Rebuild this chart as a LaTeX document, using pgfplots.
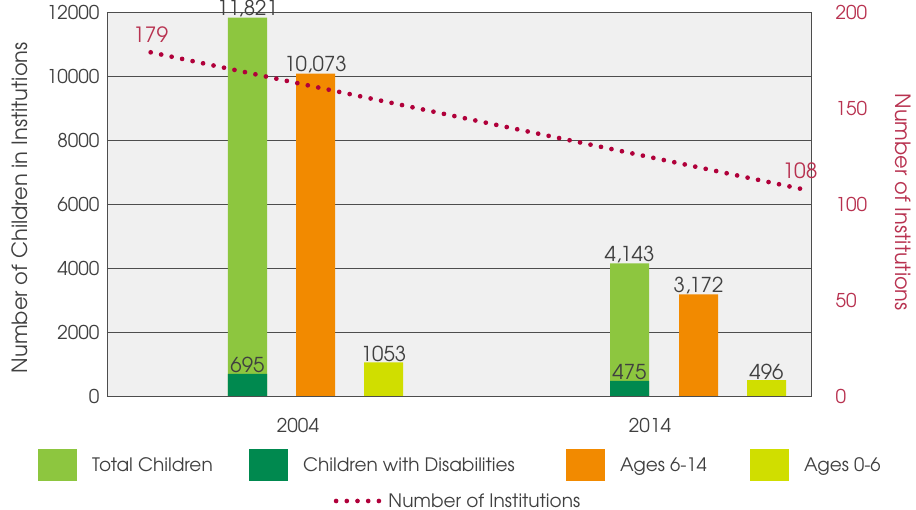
\documentclass[border=0pt]{standalone}
\usepackage{fontspec}
\setmainfont{TeX Gyre Adventor}
\usepackage{pgfplots}
\pgfplotsset{compat=1.18}
\definecolor{lgreen}{HTML}{8DC63F}
\definecolor{dgreen}{HTML}{00894F}
\definecolor{orng}{HTML}{F28A00}
\definecolor{ylw}{HTML}{D0DE00}
\definecolor{crim}{HTML}{B0003A}
\definecolor{crimtxt}{HTML}{B83250}
\definecolor{txt}{HTML}{404040}
\definecolor{bg}{HTML}{F0F0F0}
\definecolor{gridc}{HTML}{4D4D4D}
\newcommand{\tickf}{\fontsize{19}{21}\selectfont}
\newcommand{\labf}{\fontsize{20.5}{22}\selectfont}
\newcommand{\axf}{\fontsize{21}{23}\selectfont}
\newcommand{\legf}{\fontsize{18.5}{20}\selectfont}
\begin{document}
\begin{tikzpicture}[font=\tickf]
\begin{axis}[
  scale only axis, width=704pt, height=384pt,
  xmin=0, xmax=704, ymin=0, ymax=12000,
  axis background/.style={fill=bg},
  axis line style={gridc, line width=0.9pt},
  ymajorgrids, grid style={gridc, line width=0.9pt},
  ytick={0,2000,...,12000},
  scaled y ticks=false,
  xtick={191,543}, xticklabels={2004,2014},
  major tick length=0pt,
  /pgf/number format/assume math mode=true,
  /pgf/number format/1000 sep={},
  tick label style={text=txt, font=\tickf},
  yticklabel style={anchor=east, xshift=-4pt},
  xticklabel style={anchor=center, yshift=-29pt},
  ylabel={Number of Children in Institutions},
  every axis y label/.style={at={(axis description cs:-0.1236,0.49)}, rotate=90, anchor=center, text=txt, font=\axf},
  ybar, bar width=39pt,
  nodes near coords, point meta=explicit symbolic,
  every node near coord/.append style={text=txt, font=\labf, anchor=south, inner sep=0pt, yshift=0.5pt},
  legend style={at={(axis description cs:0.502,-0.180)}, anchor=center, legend columns=4, draw=none, fill=none, font=\legf, text=txt,
    /tikz/every even column/.append style={column sep=0pt},
    /tikz/every odd column/.append style={column sep=13pt}},
  legend cell align=left,
  legend image code/.code={\fill[#1] (0pt,-16pt) rectangle (39pt,16pt);},
]
\addplot[fill=lgreen, draw=none, bar shift=0pt] coordinates {(140.5,11821) [11,821] (522.5,4143) [4,143]};
\addlegendentry{\makebox[155pt][l]{Total Children}}
\addplot[fill=dgreen, draw=none, bar shift=0pt] coordinates {(140.5,695) [695] (522.5,475) [475]};
\addlegendentry{\makebox[261pt][l]{Children with Disabilities}}
\addplot[fill=orng, draw=none, bar shift=0pt] coordinates {(208.5,10073) [10,073] (591.5,3172) [3,172]};
\addlegendentry{\makebox[128pt][l]{Ages 6-14}}
\addplot[fill=ylw, draw=none, bar shift=0pt] coordinates {(276.5,1053) [1053] (659.5,496) [496]};
\addlegendentry{Ages 0-6}
\end{axis}
\begin{axis}[
  scale only axis, width=704pt, height=384pt,
  xmin=0, xmax=704, ymin=0, ymax=200,
  axis x line=none, axis y line*=right,
  axis line style={draw=none},
  ytick={0,50,...,200},
  major tick length=0pt,
  /pgf/number format/assume math mode=true,
  tick label style={text=crimtxt, font=\tickf},
  yticklabel style={anchor=west, xshift=21pt},
  ylabel={Number of Institutions},
  every axis y label/.style={at={(axis description cs:1.1307,0.505)}, rotate=-90, anchor=center, text=crimtxt, font=\axf},
  legend style={at={(axis description cs:0.4986,-0.2734)}, anchor=center, draw=none, fill=none, font=\legf, text=txt},
  legend image code/.code={\draw[#1] (0pt,0pt) -- (48pt,0pt);},
]
\addplot[crim, line width=4.7pt, line cap=round, dash pattern=on 0pt off 10.7pt,
  nodes near coords, point meta=explicit symbolic,
  every node near coord/.style={text=crimtxt, font=\axf, anchor=south, yshift=4pt}]
  coordinates {(43.7,179) [179] (693,108) [108]};
\addlegendentry{Number of Institutions}
\end{axis}
\pgfresetboundingbox
\path[use as bounding box] (-107pt,-114pt) rectangle (809pt,396pt);
\end{tikzpicture}
\end{document}
